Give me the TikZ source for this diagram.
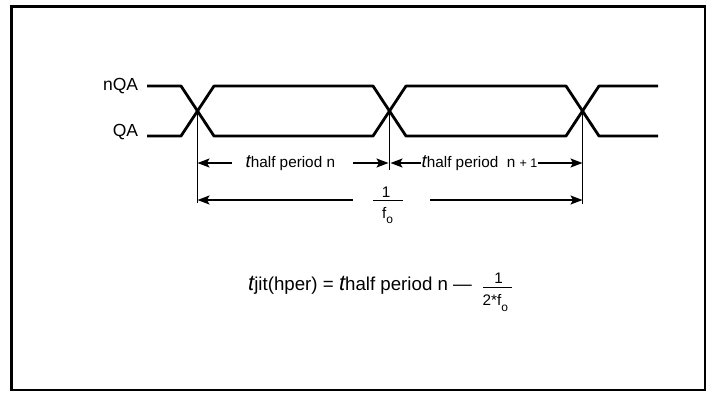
\documentclass[tikz,border=0pt]{standalone}
\usepackage{fontspec}
\setmainfont{Liberation Sans}
\usetikzlibrary{arrows.meta}
\newcommand{\lt}{{\fontsize{18.5}{20}\selectfont\itshape t}}
\newcommand{\bt}{{\fontsize{22}{24}\selectfont\itshape t}}
\begin{document}
\begin{tikzpicture}[x=1pt,y=-1pt,
  sig/.style={line width=2.8pt,line join=round},
  guide/.style={line width=1pt},
  dimarrow/.style={line width=1.4pt,-{Stealth[length=12pt,width=9pt,inset=2.5pt]}},
  fbar/.style={line width=1.3pt},
  lbl/.style={inner sep=0pt,font=\fontsize{15.3}{18}\selectfont},
  sig lbl/.style={inner sep=0pt,font=\fontsize{17.5}{19}\selectfont},
  big/.style={inner sep=0pt,font=\fontsize{18.7}{22}\selectfont}]
\useasboundingbox (0,0) rectangle (712,392);
\draw[line width=2.7pt] (11.3,6.3) rectangle (705,390);

% signal names
\node[sig lbl,anchor=base east] (nqa) at (138.3,90) {nQA};
\node[sig lbl,anchor=base east] (qa) at (138.3,136.7) {QA};

% waveforms
\draw[sig] (147,86) -- (181,86) -- (214,136) -- (373,136) -- (406,86) -- (566,86) -- (599,136) -- (658,136);
\draw[sig] (147,136) -- (181,136) -- (214,86) -- (373,86) -- (406,136) -- (566,136) -- (599,86) -- (658,86);

% crossing points and guides
\coordinate (c1) at (197.5,111);
\coordinate (c2) at (389.5,111);
\coordinate (c3) at (582.5,111);
\coordinate (r1) at (0,163);
\coordinate (r2) at (0,200);
\draw[guide] (c1) -- (197.5,203);
\draw[guide] (c2) -- (389.5,170);
\draw[guide] (c3) -- (582.5,204);

% row 1
\node[lbl,anchor=base west] (h1) at (245.5,167.5) {\lt half period n};
\node[lbl,anchor=base west] (h2) at (421.5,167.5) {\lt half period\ \ n {\fontsize{12.5}{14}\selectfont + 1}};
\draw[dimarrow] (232,163) -- (c1 |- r1);
\draw[dimarrow] (353,163) -- ([xshift=-1pt]c2 |- r1);
\draw[dimarrow] ([xshift=-1pt]h2.west |- r1) -- ([xshift=1pt]c2 |- r1);
\draw[dimarrow] ([xshift=1pt]h2.east |- r1) -- (c3 |- r1);

% row 2
\draw[dimarrow] (353,200) -- (c1 |- r2);
\draw[dimarrow] (430,200) -- (c3 |- r2);
\node[lbl,anchor=base] (p1) at (386,197) {1};
\draw[fbar] (373,200.5) -- (403,200.5);
\node[lbl,anchor=base west] (pf) at (382,218) {f\raisebox{-5pt}{\fontsize{12}{13}\selectfont o}};

% formula
\node[big,anchor=base west] (form) at (248,290) {\bt jit(hper) = \bt half period n —};
\node[lbl,anchor=base] (q1) at (498.5,283.5) {1};
\draw[fbar] (483,287.5) -- (511.5,287.5);
\node[lbl,anchor=base west] (q2) at (482.5,305) {2*f\raisebox{-6pt}{\fontsize{12}{13}\selectfont o}};
\end{tikzpicture}
\end{document}
